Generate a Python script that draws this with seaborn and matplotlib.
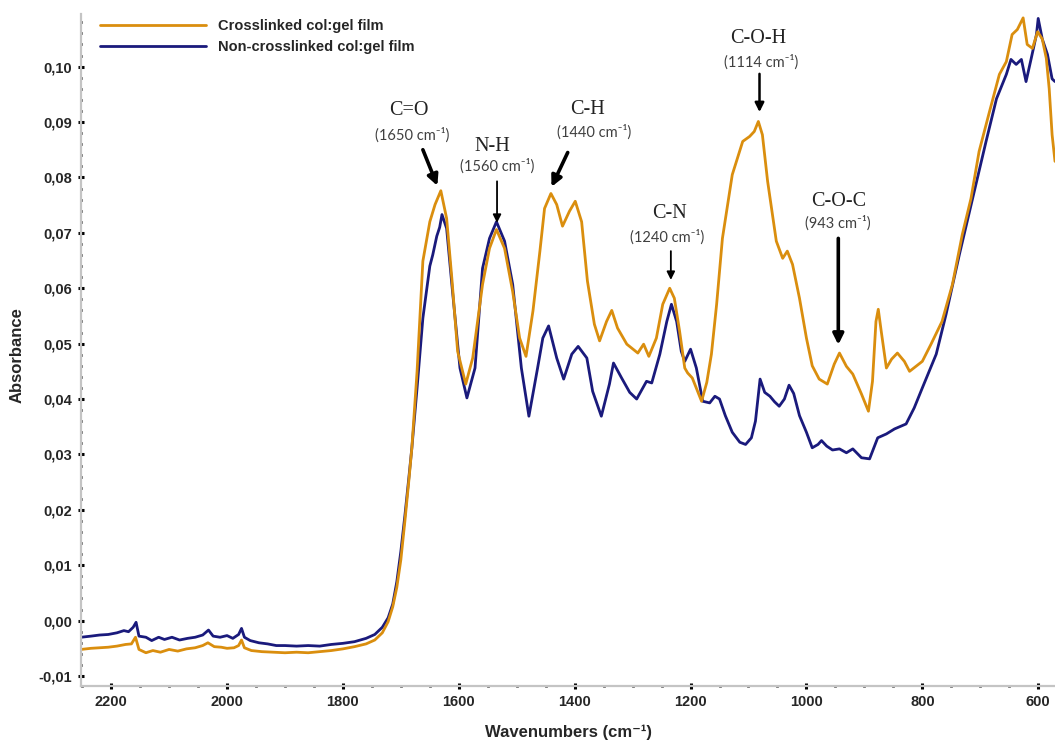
import matplotlib
matplotlib.use("Agg")
import pandas as pd
import matplotlib.pyplot as plt
import seaborn as sns
from matplotlib.ticker import MultipleLocator

# ---- data ----
series_names = ["Crosslinked col:gel film", "Non-crosslinked col:gel film"]

cross_wn = [2252, 2235, 2220, 2205, 2190, 2175, 2165, 2158, 2152, 2140, 2128, 2115, 2100,
            2085, 2070, 2055, 2042, 2033, 2022, 2010, 2000, 1988, 1980, 1975, 1970, 1958,
            1940, 1920, 1900, 1880, 1860, 1840, 1820, 1800, 1780, 1760, 1745, 1732, 1722,
            1714, 1707, 1700, 1693, 1686, 1681, 1672, 1662, 1650, 1641, 1631, 1621, 1612,
            1602, 1588, 1576, 1559, 1547, 1535, 1521, 1507, 1495, 1484, 1472, 1460, 1452,
            1441, 1431, 1421, 1409, 1399, 1388, 1378, 1366, 1357, 1345, 1336, 1326, 1310,
            1291, 1281, 1272, 1259, 1248, 1236, 1228, 1219, 1210, 1205, 1197, 1181, 1172,
            1164, 1155, 1145, 1128, 1110, 1098, 1090, 1083, 1076, 1067, 1052, 1041, 1033,
            1024, 1012, 1000, 990, 978, 964, 952, 943, 931, 920, 905, 893, 886, 880, 876,
            871, 862, 853, 843, 831, 822, 800, 785, 766, 748, 731, 716, 702, 684, 667, 655,
            645, 636, 626, 619, 610, 601, 593, 586, 581, 576, 571]
cross_abs = [-0.0052, -0.0050, -0.0049, -0.0048, -0.0046, -0.0043, -0.0042, -0.0030, -0.0052,
             -0.0058, -0.0054, -0.0057, -0.0052, -0.0055, -0.0051, -0.0049, -0.0045, -0.0040,
             -0.0047, -0.0048, -0.0050, -0.0049, -0.0045, -0.0035, -0.0049, -0.0054, -0.0056,
             -0.0057, -0.0058, -0.0057, -0.0058, -0.0056, -0.0054, -0.0051, -0.0047, -0.0042,
             -0.0035, -0.0022, -0.0002, 0.0025, 0.0060, 0.0110, 0.0180, 0.0255, 0.0312, 0.0450,
             0.0649, 0.0720, 0.0751, 0.0776, 0.0726, 0.0618, 0.0486, 0.0427, 0.0474, 0.0607,
             0.0672, 0.0706, 0.0672, 0.0594, 0.0510, 0.0477, 0.0559, 0.0667, 0.0744, 0.0771,
             0.0751, 0.0712, 0.0739, 0.0757, 0.0720, 0.0613, 0.0535, 0.0505, 0.0540, 0.0560,
             0.0528, 0.0499, 0.0483, 0.0499, 0.0477, 0.0510, 0.0571, 0.0600, 0.0582, 0.0523,
             0.0456, 0.0447, 0.0438, 0.0396, 0.0430, 0.0481, 0.0571, 0.0690, 0.0805, 0.0865,
             0.0874, 0.0883, 0.0901, 0.0877, 0.0793, 0.0685, 0.0654, 0.0667, 0.0643, 0.0582,
             0.0510, 0.0460, 0.0436, 0.0427, 0.0463, 0.0483, 0.0459, 0.0445, 0.0409, 0.0378,
             0.0432, 0.0540, 0.0562, 0.0523, 0.0456, 0.0472, 0.0483, 0.0468, 0.0450, 0.0468,
             0.0499, 0.0540, 0.0607, 0.0697, 0.0762, 0.0847, 0.0919, 0.0986, 0.1009, 0.1058,
             0.1067, 0.1088, 0.1040, 0.1033, 0.1063, 0.1050, 0.1015, 0.0960, 0.0877, 0.0829]

noncross_wn = [2252, 2235, 2220, 2205, 2190, 2178, 2170, 2162, 2157, 2152, 2140, 2130, 2118,
               2108, 2095, 2082, 2068, 2055, 2042, 2032, 2024, 2012, 2000, 1990, 1980, 1975,
               1970, 1960, 1945, 1930, 1915, 1900, 1880, 1860, 1840, 1820, 1800, 1780, 1760,
               1745, 1732, 1722, 1714, 1707, 1700, 1693, 1686, 1681, 1672, 1662, 1650, 1645,
               1638, 1633, 1629, 1621, 1612, 1598, 1586, 1572, 1559, 1547, 1535, 1521, 1507,
               1492, 1479, 1464, 1455, 1445, 1431, 1419, 1405, 1394, 1379, 1369, 1354, 1340,
               1333, 1319, 1305, 1293, 1276, 1267, 1253, 1241, 1233, 1224, 1216, 1210, 1200,
               1190, 1179, 1167, 1158, 1150, 1140, 1128, 1115, 1105, 1095, 1088, 1080, 1072,
               1063, 1055, 1047, 1038, 1030, 1022, 1012, 1000, 990, 980, 974, 965, 955, 943,
               931, 920, 905, 891, 877, 862, 848, 828, 814, 800, 776, 759, 736, 707, 690, 672,
               655, 647, 638, 629, 621, 612, 603, 600, 593, 584, 576, 571]
noncross_abs = [-0.0030, -0.0028, -0.0026, -0.0025, -0.0022, -0.0018, -0.0020, -0.0012, -0.0003,
                -0.0028, -0.0030, -0.0036, -0.0030, -0.0034, -0.0030, -0.0035, -0.0032, -0.0030,
                -0.0026, -0.0017, -0.0028, -0.0030, -0.0027, -0.0032, -0.0025, -0.0014, -0.0030,
                -0.0036, -0.0040, -0.0042, -0.0045, -0.0045, -0.0046, -0.0045, -0.0046, -0.0043,
                -0.0041, -0.0038, -0.0032, -0.0025, -0.0012, 0.0005, 0.0030, 0.0070, 0.0125,
                0.0190, 0.0260, 0.0312, 0.0420, 0.0546, 0.0640, 0.0660, 0.0694, 0.0710, 0.0733,
                0.0708, 0.0607, 0.0456, 0.0402, 0.0456, 0.0636, 0.0690, 0.0720, 0.0685, 0.0607,
                0.0456, 0.0369, 0.0456, 0.0510, 0.0532, 0.0474, 0.0436, 0.0481, 0.0495, 0.0474,
                0.0414, 0.0369, 0.0427, 0.0465, 0.0438, 0.0412, 0.0400, 0.0432, 0.0429, 0.0481,
                0.0540, 0.0571, 0.0540, 0.0486, 0.0468, 0.0490, 0.0456, 0.0396, 0.0393, 0.0405,
                0.0400, 0.0370, 0.0340, 0.0322, 0.0318, 0.0330, 0.0360, 0.0436, 0.0412, 0.0405,
                0.0395, 0.0387, 0.0400, 0.0425, 0.0410, 0.0370, 0.0340, 0.0312, 0.0318, 0.0325,
                0.0315, 0.0308, 0.0310, 0.0303, 0.0310, 0.0294, 0.0292, 0.0330, 0.0337, 0.0346,
                0.0355, 0.0384, 0.0420, 0.0481, 0.0553, 0.0661, 0.0790, 0.0865, 0.0942, 0.0986,
                0.1013, 0.1004, 0.1013, 0.0973, 0.1015, 0.1058, 0.1087, 0.1050, 0.1022, 0.0978,
                0.0973]

x_ticks = [2200, 2000, 1800, 1600, 1400, 1200, 1000, 800, 600]
y_ticks = [-0.01, 0.00, 0.01, 0.02, 0.03, 0.04, 0.05, 0.06, 0.07, 0.08, 0.09, 0.10]
y_tick_labels = ["-0,01", "0,00", "0,01", "0,02", "0,03", "0,04", "0,05",
                 "0,06", "0,07", "0,08", "0,09", "0,10"]

peak_groups = ["C=O", "N-H", "C-H", "C-N", "C-O-H", "C-O-C"]
peak_wavenumbers = [1650, 1560, 1440, 1240, 1114, 943]

colors = {"Crosslinked col:gel film": "#DA8E0E",
          "Non-crosslinked col:gel film": "#1A1A7C"}

df = pd.concat([
    pd.DataFrame({"wn": cross_wn, "abs": cross_abs, "sample": series_names[0]}),
    pd.DataFrame({"wn": noncross_wn, "abs": noncross_abs, "sample": series_names[1]}),
], ignore_index=True)

sns.set_style("white")
bold_sans = ["Liberation Sans Narrow", "Liberation Sans", "DejaVu Sans"]
plt.rcParams["font.family"] = bold_sans

fig = plt.figure(figsize=(10.55, 7.45), dpi=100)
ax = fig.add_axes([0.0768, 0.0792, 0.9232, 0.902])

# navy underneath, orange on top
for name in [series_names[1], series_names[0]]:
    sns.lineplot(data=df[df["sample"] == name], x="wn", y="abs", sort=False,
                 estimator=None, color=colors[name], lw=2.0, label=name, ax=ax)

ax.set_xlim(2252, 571)
ax.set_ylim(-0.0118, 0.1095)

ax.set_xticks(x_ticks)
ax.set_xticklabels([str(t) for t in x_ticks], fontweight="bold", fontsize=10.5)
ax.set_yticks(y_ticks)
ax.set_yticklabels(y_tick_labels, fontweight="bold", fontsize=10.5)
ax.xaxis.set_minor_locator(MultipleLocator(50))
ax.yaxis.set_minor_locator(MultipleLocator(0.002))
ax.tick_params(which="both", bottom=True, left=True, top=False, right=False)
ax.tick_params(which="major", direction="inout", length=5, width=2.2, color="black", pad=4)
ax.tick_params(which="minor", direction="inout", length=2, width=2.0, color="black")

for s in ["top", "right"]:
    ax.spines[s].set_visible(False)
for s in ["left", "bottom"]:
    ax.spines[s].set_color("#c4c4c4")
    ax.spines[s].set_linewidth(1.6)

ax.set_xlabel("Wavenumbers (cm\u207b\u00b9)", fontweight="bold", fontsize=12)
ax.set_ylabel("Absorbance", fontweight="bold", fontsize=12)
ax.xaxis.set_label_coords(0.5, -0.058)
ax.yaxis.set_label_coords(-0.058, 0.493)

handles, labels = ax.get_legend_handles_labels()
ax.legend(handles[::-1], labels[::-1], loc="upper left", bbox_to_anchor=(0.012, 1.003),
          frameon=False, handlelength=7.3, handletextpad=0.8, labelspacing=0.45,
          borderpad=0, prop={"weight": "bold", "size": 10.5})

# annotation layout: label pos, wavenumber-text pos, arrow start, arrow end, arrow width
ann_layout = [
    ((1686, 0.0921), (1681, 0.0877), (1662, 0.0850), (1637, 0.0785), 2.6),
    ((1543, 0.0856), (1534, 0.0820), (1534, 0.0793), (1534, 0.0718), 1.3),
    ((1378, 0.0923), (1366, 0.0881), (1412, 0.0845), (1440, 0.0783), 2.6),
    ((1236, 0.0735), (1240, 0.0692), (1234, 0.0667), (1234, 0.0615), 1.3),
    ((1083, 0.1050), (1078, 0.1009), (1081, 0.0987), (1081, 0.0918), 1.8),
    ((945, 0.0757), (945, 0.0717), (945, 0.0690), (945, 0.0498), 2.6),
]
for grp, wn, (lab_xy, wn_xy, a0, a1, lw) in zip(peak_groups, peak_wavenumbers, ann_layout):
    ax.text(*lab_xy, grp, ha="center", va="center", fontsize=14.5,
            family=["Liberation Serif", "DejaVu Serif"], color="#222222")
    ax.text(*wn_xy, f"({wn} cm\u207b\u00b9)", ha="center", va="center", fontsize=10.5,
            family=["Lato", "DejaVu Sans"], color="#404040")
    ax.annotate("", xy=a1, xytext=a0,
                arrowprops=dict(arrowstyle="-|>", lw=lw, color="black",
                                mutation_scale=8 + 3 * lw, shrinkA=0, shrinkB=0))

fig.savefig("out.png", dpi=100)
